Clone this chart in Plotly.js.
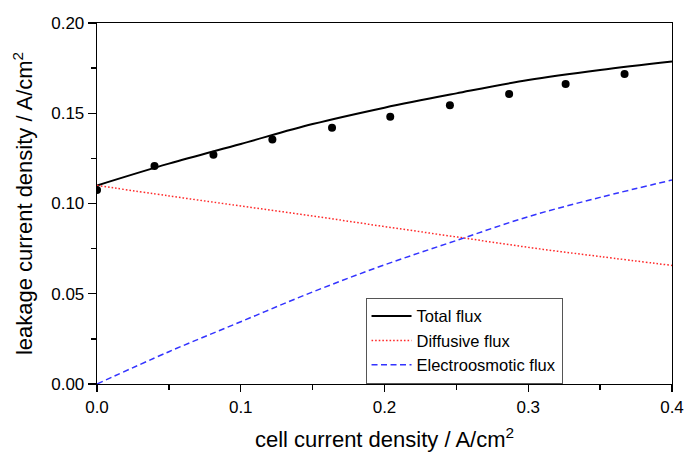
<!DOCTYPE html>
<html>
<head>
<meta charset="utf-8">
<script src="https://cdn.plot.ly/plotly-3.0.1.min.js"></script>
<style>html,body{margin:0;padding:0;background:#fff;}#chart{width:685px;height:453px;}</style>
</head>
<body>
<div id="chart"></div>
<script>
// Model curves
const curveX = [0, 0.05, 0.10, 0.15, 0.20, 0.25, 0.30, 0.35, 0.40];
const totalFlux = [0.110, 0.1221, 0.1330, 0.1440, 0.1531, 0.1610, 0.1684, 0.1740, 0.1787];
const diffusiveFlux = [0.110, 0.1042, 0.0986, 0.0931, 0.0872, 0.0815, 0.0757, 0.0706, 0.0657];
const electroosmoticFlux = [0.0, 0.0179, 0.0345, 0.0510, 0.0660, 0.0795, 0.0927, 0.1034, 0.1130];

// Measured points
const measX = [0.0, 0.040, 0.081, 0.122, 0.1635, 0.204, 0.2455, 0.2867, 0.326, 0.367];
const measY = [0.1075, 0.1208, 0.1270, 0.1355, 0.1420, 0.1480, 0.1544, 0.1607, 0.1662, 0.1717];

// Tick labels
const xTicks = [0, 0.1, 0.2, 0.3, 0.4];
const xTickText = ['0.0', '0.1', '0.2', '0.3', '0.4'];
const yTicks = [0, 0.05, 0.10, 0.15, 0.20];
const yTickText = ['0.00', '0.05', '0.10', '0.15', '0.20'];

const traces = [
  {x: curveX, y: totalFlux, mode: 'lines', name: 'Total flux',
   line: {color: '#000000', width: 2, shape: 'spline'}},
  {x: curveX, y: diffusiveFlux, mode: 'lines', name: 'Diffusive flux',
   line: {color: '#ff2a2a', width: 1.5, dash: '1.6px,2px', shape: 'spline'}},
  {x: curveX, y: electroosmoticFlux, mode: 'lines', name: 'Electroosmotic flux',
   line: {color: '#3333ff', width: 1.5, dash: '6px,3.5px', shape: 'spline'}},
  {x: measX, y: measY, mode: 'markers', name: 'Experiment', showlegend: false,
   marker: {color: '#000000', size: 8, symbol: 'circle'}}
];

const fontFam = '"Liberation Sans", Arial, sans-serif';
const layout = {
  width: 685, height: 453,
  margin: {l: 97, r: 13, t: 23, b: 69},
  paper_bgcolor: '#ffffff', plot_bgcolor: '#ffffff',
  font: {family: fontFam, color: '#000000', size: 17},
  showlegend: true,
  legend: {x: 0.467, y: 0.239, xanchor: 'left', yanchor: 'top',
    bordercolor: '#555555', borderwidth: 1, bgcolor: '#ffffff',
    font: {family: fontFam, size: 16.5, color: '#000000'},
    itemwidth: 40, tracegroupgap: 0},
  xaxis: {
    range: [0, 0.4], tickvals: xTicks, ticktext: xTickText,
    ticks: 'outside', ticklen: 7, tickwidth: 1.3, tickcolor: '#000',
    minor: {dtick: 0.05, tick0: 0, ticks: 'outside', ticklen: 5, tickwidth: 1.3, tickcolor: '#000', showgrid: false},
    showline: true, linecolor: '#000', linewidth: 1.3, mirror: true,
    showgrid: false, zeroline: false,
    tickfont: {family: fontFam, size: 17},
    title: {text: 'cell current density / A/cm<sup>2</sup>', font: {family: fontFam, size: 22}, standoff: 16}
  },
  yaxis: {
    range: [0, 0.2], tickvals: yTicks, ticktext: yTickText,
    ticks: 'outside', ticklen: 8, tickwidth: 1.3, tickcolor: '#000',
    minor: {dtick: 0.025, tick0: 0, ticks: 'outside', ticklen: 5, tickwidth: 1.3, tickcolor: '#000', showgrid: false},
    showline: true, linecolor: '#000', linewidth: 1.3, mirror: true,
    showgrid: false, zeroline: false,
    tickfont: {family: fontFam, size: 17},
    title: {text: 'leakage current density / A/cm<sup>2</sup>', font: {family: fontFam, size: 22}, standoff: 12}
  }
};

Plotly.newPlot('chart', traces, layout, {displayModeBar: false, staticPlot: true});
</script>
</body>
</html>
